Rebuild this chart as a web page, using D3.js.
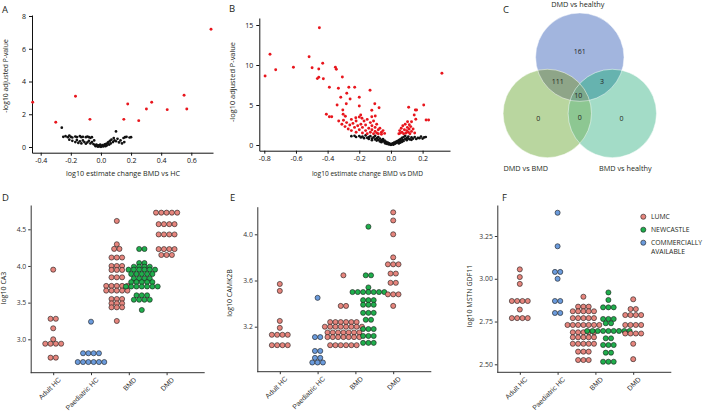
<!DOCTYPE html>
<html><head><meta charset="utf-8">
<script src="https://cdn.jsdelivr.net/npm/d3@7"></script>
<style>
body{margin:0;background:#fff;}
svg{display:block;font-family:"Open Sans",sans-serif;}
</style></head><body>
<svg id="fig" width="709" height="412"></svg>
<script>
// ---------------- DATA ----------------
// Panel A: volcano BMD vs HC  [log10 estimate change, -log10 adj p]
const volcanoA_sig = [[-0.453,2.73],[-0.30,1.51],[-0.169,3.10],[-0.073,1.69],[0.152,1.69],[0.178,2.63],[0.251,1.61],[0.302,2.32],[0.337,2.73],[0.44,2.28],[0.552,3.16],[0.57,2.32],[0.731,7.19]];
const volcanoA_ns = [[-0.26,1.18],[-0.25,0.62],[-0.235,0.66],[-0.22,0.6],[-0.21,0.7],[-0.2,0.62],[-0.19,0.58],[-0.17,0.64],[-0.16,0.6],[-0.14,0.66],[-0.13,0.6],[-0.12,0.62],[-0.1,0.6],[-0.09,0.64],[-0.08,0.6],[-0.07,0.56],[-0.06,0.6],
[-0.21,0.45],[-0.19,0.38],[-0.17,0.3],[-0.16,0.42],[-0.15,0.25],[-0.14,0.35],[-0.13,0.22],[-0.12,0.4],[-0.11,0.3],[-0.1,0.2],[-0.09,0.28],[-0.08,0.38],[-0.07,0.22],[-0.06,0.3],[-0.05,0.18],[-0.045,0.4],
[-0.04,0.12],[-0.035,0.05],[-0.03,0.15],[-0.025,0.08],[-0.02,0.02],[-0.015,0.1],[-0.01,0.04],[-0.005,0.14],[0,0.01],[0.005,0.06],[0.01,0.12],[0.015,0.03],[0.02,0.09],[0.025,0.16],[0.03,0.05],[0.035,0.2],[0.04,0.1],[0.045,0.25],
[0.05,0.3],[0.055,0.15],[0.06,0.38],[0.065,0.22],[0.07,0.45],[0.08,0.3],[0.085,0.55],[0.09,0.4],[0.1,0.95],[0.1,0.35],[0.11,0.5],[0.12,0.28],[0.13,0.4],[0.14,0.22],[0.15,0.55],[0.155,0.3],[0.16,0.6],[0.17,0.62],[0.19,0.58],[0.2,0.6]];

// Panel B: volcano BMD vs DMD
const volcanoB_sig = [[-0.452,14.66],[-0.764,11.34],[-0.795,8.63],[-0.728,9.41],[-0.616,9.71],[-0.517,11.04],[-0.498,9.66],[-0.431,10.21],[-0.456,9.5],[-0.456,8.46],[-0.465,8.3],[-0.427,8.29],[-0.351,9.71],[-0.345,9.46],[-0.307,8.5],[-0.389,7.21],[-0.332,7.09],[-0.266,7.21],[-0.229,7.21],[-0.279,6.46],[-0.317,5.96],[-0.258,5.75],[-0.2,5.96],[-0.132,6.84],[-0.34,5.0],[-0.282,5.16],[-0.2,4.88],[-0.102,5.16],[-0.075,4.66],[-0.121,4.34],[-0.408,3.84],[-0.389,3.54],[-0.374,3.54],[-0.304,4.375],[-0.302,3.84],[-0.288,3.6],[-0.222,3.41],[-0.191,3.75],[-0.183,3.34],[-0.121,3.54],[-0.099,3.625],
[-0.33,3.0],[-0.31,2.6],[-0.3,3.1],[-0.29,2.3],[-0.28,2.8],[-0.27,2.0],[-0.26,2.5],[-0.25,3.2],[-0.25,1.8],[-0.24,2.7],[-0.23,2.2],[-0.22,1.6],[-0.22,3.0],[-0.21,2.4],[-0.2,1.9],[-0.2,3.5],[-0.19,2.6],[-0.18,1.5],[-0.18,2.2],[-0.17,3.0],[-0.16,1.8],[-0.16,2.5],[-0.15,1.4],[-0.15,3.2],[-0.14,2.1],[-0.13,1.6],[-0.13,2.8],[-0.12,1.9],[-0.12,2.4],[-0.11,1.4],[-0.11,3.0],[-0.1,1.7],[-0.1,2.2],[-0.09,1.5],[-0.09,2.6],[-0.08,1.9],[-0.08,1.4],[-0.07,2.1],[-0.06,1.6],[-0.06,1.35],[-0.05,1.8],[-0.04,1.45],
[0.112,4.71],[0.154,4.375],[0.162,4.375],[0.207,5.0],[0.147,3.75],[0.157,3.21],[0.222,3.125],[0.238,3.125],[0.322,8.96],[0.13,2.9],[0.116,2.54],[0.104,2.2],[0.05,1.4],[0.055,1.8],[0.06,1.5],[0.065,2.1],[0.07,1.6],[0.075,2.4],[0.08,1.4],[0.085,1.9],[0.09,2.6],[0.095,1.5],[0.1,1.8],[0.105,2.9],[0.11,1.6],[0.115,2.0],[0.12,1.4],[0.125,2.3],[0.13,1.7],[0.14,2.0],[0.15,1.5]];
const volcanoB_ns = [[-0.25,1.1],[-0.23,1.15],[-0.22,1.0],[-0.2,1.12],[-0.19,0.95],[-0.18,1.05],[-0.17,0.85],[-0.16,1.2],[-0.15,0.9],[-0.14,1.0],[-0.14,0.75],[-0.13,1.1],[-0.12,0.8],[-0.12,0.6],[-0.11,0.95],[-0.1,0.7],[-0.1,1.15],[-0.09,0.55],[-0.09,0.85],[-0.08,0.65],[-0.08,1.0],[-0.07,0.45],[-0.07,0.8],[-0.06,0.6],[-0.06,0.35],[-0.05,0.5],[-0.05,0.75],[-0.04,0.3],[-0.04,0.55],[-0.035,0.2],[-0.03,0.4],[-0.025,0.15],[-0.02,0.3],[-0.015,0.08],[-0.01,0.2],[-0.005,0.05],[0,0.12],[0,0.02],
[0.005,0.08],[0.01,0.2],[0.015,0.04],[0.02,0.3],[0.025,0.15],[0.03,0.4],[0.035,0.25],[0.04,0.5],[0.045,0.35],[0.05,0.6],[0.05,0.2],[0.055,0.45],[0.06,0.75],[0.06,0.3],[0.065,0.55],[0.07,0.9],[0.07,0.4],[0.075,0.65],[0.08,1.0],[0.08,0.5],[0.09,0.75],[0.09,1.15],[0.1,0.6],[0.1,0.9],[0.11,0.8],[0.11,1.05],[0.12,0.7],[0.13,0.95],[0.13,0.65],[0.14,0.8],[0.15,1.0],[0.16,0.75],[0.17,0.9],[0.18,0.85],[0.19,1.05],[0.2,0.8],[0.21,0.95],[0.22,1.0]];

const volcanoA_xTicks = [-0.4,-0.2,0.0,0.2,0.4,0.6];
const volcanoA_yTicks = [0,2,4,6,8];
const volcanoB_xTicks = [-0.8,-0.6,-0.4,-0.2,0.0,0.2];
const volcanoB_yTicks = [0,5,10,15];

// Panel C: Venn
const vennSets = ["DMD vs healthy","DMD vs BMD","BMD vs healthy"];
const vennOnly = [161, 0, 0];            // blue only, green only, teal only
const vennPairs = [[0,1,111],[0,2,3],[1,2,0]];
const vennAll = 10;

// Panels D-F: dot plots, rows of [value, count]
const categories = ["Adult HC","Paediatric HC","BMD","DMD"];
const sources = ["LUMC","NEWCASTLE","COMMERCIALLY AVAILABLE"];

const ca3_adult_lumc = [[3.95,1],[3.28,2],[3.15,1],[3.0,1],[2.94,4],[2.75,2]];
const ca3_paed_comm  = [[3.24,1],[2.81,4],[2.69,6]];
const ca3_bmd_lumc   = [[4.614,1],[4.296,1],[4.233,2],[4.115,3],[4.0,3],[3.946,3],[3.845,3],[3.728,5],[3.664,5],[3.55,3],[3.49,3],[3.436,3],[3.25,1]];
const ca3_bmd_nc     = [[4.232,2],[4.04,2],[3.99,4],[3.95,6],[3.89,5],[3.83,4],[3.78,5],[3.72,7],[3.60,3],[3.54,4],[3.40,1]];
const ca3_dmd_lumc   = [[4.727,5],[4.57,4],[4.43,4],[4.23,4],[4.15,3]];
const ca3_yTicks = [3.0,3.5,4.0,4.5];

const camk_adult_lumc = [[3.57,1],[3.51,1],[3.25,1],[3.19,1],[3.13,4],[3.04,4]];
const camk_paed_comm  = [[3.45,1],[3.11,2],[2.99,2],[2.93,2],[2.89,3]];
const camk_bmd_lumc   = [[3.645,1],[3.38,2],[3.24,6],[3.2,8],[3.15,7],[3.11,7],[3.04,6]];
const camk_bmd_nc     = [[4.066,1],[3.645,2],[3.54,1],[3.50,7],[3.43,3],[3.39,3],[3.32,3],[3.26,2],[3.18,3],[3.12,3],[3.06,3]];
const camk_dmd_lumc   = [[4.19,1],[4.12,1],[4.0,1],[3.80,1],[3.74,3],[3.66,2],[3.58,2],[3.48,3],[3.38,1]];
const camk_yTicks = [3.2,3.6,4.0];

const mstn_adult_lumc = [[3.055,1],[3.01,1],[2.97,1],[2.87,4],[2.82,1],[2.77,4]];
const mstn_paed_comm  = [[3.386,1],[3.19,1],[3.04,2],[3.0,1],[2.87,2],[2.80,2]];
const mstn_bmd_lumc   = [[2.895,1],[2.837,3],[2.81,5],[2.77,5],[2.73,7],[2.687,5],[2.658,5],[2.62,5],[2.574,3],[2.525,3]];
const mstn_bmd_nc     = [[2.92,1],[2.876,1],[2.833,3],[2.765,3],[2.74,2],[2.695,9],[2.652,2],[2.613,3],[2.568,2],[2.515,3]];
const mstn_dmd_lumc   = [[2.88,1],[2.823,2],[2.788,4],[2.73,4],[2.68,4],[2.62,1],[2.53,1]];
const mstn_yTicks = [2.50,2.75,3.00,3.25];

// ---------------- STYLE ----------------
const srcColor = {"LUMC":"#e6857d","NEWCASTLE":"#1fae4c","COMMERCIALLY AVAILABLE":"#6b9bdc"};
const svg = d3.select("#fig");
const TXT = "#231f20";

function styleAxis(sel, color, fs){
  sel.select(".domain").attr("stroke",color).attr("stroke-width",1);
  sel.selectAll(".tick line").attr("stroke",color);
  sel.selectAll(".tick text").attr("fill",color).style("font-size",fs+"px").style("font-family",'"Open Sans",sans-serif');
}
function panelLetter(t,x,y){
  svg.append("text").attr("x",x).attr("y",y).text(t).style("font-size","9.5px").attr("fill",TXT);
}

// ---------------- VOLCANO ----------------
function volcano(o){
  const g = svg.append("g");
  const x = d3.scaleLinear().domain(o.xDom).range(o.xRng);
  const y = d3.scaleLinear().domain(o.yDom).range(o.yRng);
  const xAx = d3.scaleLinear().domain([x.invert(o.ax0), x.invert(o.ax1)]).range([o.ax0, o.ax1]);
  const yAx = d3.scaleLinear().domain([y.invert(o.ay0), y.invert(o.ay1)]).range([o.ay0, o.ay1]);
  g.append("g").attr("transform",`translate(0,${o.ay0})`)
    .call(d3.axisBottom(xAx).tickValues(o.xTicks).tickFormat(d=>d.toFixed(1)).tickSize(3).tickPadding(2.5).tickSizeOuter(0))
    .call(s=>styleAxis(s,"#111",7));
  g.append("g").attr("transform",`translate(${o.ax0},0)`)
    .call(d3.axisLeft(yAx).tickValues(o.yTicks).tickFormat(d=>String(d)).tickSize(3).tickPadding(3).tickSizeOuter(0))
    .call(s=>styleAxis(s,"#111",7));
  g.append("g").selectAll("circle").data(o.ns).join("circle")
    .attr("cx",d=>x(d[0])).attr("cy",d=>y(d[1])).attr("r",1.35).attr("fill","#111");
  g.append("g").selectAll("circle").data(o.sig).join("circle")
    .attr("cx",d=>x(d[0])).attr("cy",d=>y(d[1])).attr("r",1.45).attr("fill","#e8161d");
  g.append("text").attr("x",o.xlab[0]).attr("y",o.xlab[1]).attr("text-anchor","middle")
    .style("font-size",o.xlabFs+"px").attr("fill",TXT).text(o.xlabel);
  g.append("text").attr("transform",`translate(${o.ylab[0]},${o.ylab[1]}) rotate(-90)`).attr("text-anchor","middle")
    .style("font-size",o.ylabFs+"px").attr("fill",TXT).text("-log10 adjusted P-value");
}

volcano({xDom:[-0.4,0.6], xRng:[40.7,191.3], yDom:[0,8], yRng:[147,16],
  ax0:32, ax1:213, ay0:152.7, ay1:15, xTicks:volcanoA_xTicks, yTicks:volcanoA_yTicks,
  ns:volcanoA_ns, sig:volcanoA_sig, xlabel:"log10 estimate change BMD vs HC", xlab:[123,176], xlabFs:7.2,
  ylab:[7.5,76], ylabFs:6.8});
volcano({xDom:[-0.8,0.2], xRng:[264.3,422.6], yDom:[0,15], yRng:[145,25],
  ax0:259.3, ax1:450, ay0:150.7, ay1:18, xTicks:volcanoB_xTicks, yTicks:volcanoB_yTicks,
  ns:volcanoB_ns, sig:volcanoB_sig, xlabel:"log10 estimate change BMD vs DMD", xlab:[367.5,176], xlabFs:6.6,
  ylab:[235,82], ylabFs:7.4});

panelLetter("A",2,13);
panelLetter("B",229,12);
panelLetter("C",503,13);
panelLetter("D",2,201);
panelLetter("E",230,201);
panelLetter("F",502,201);

// ---------------- VENN ----------------
(function(){
  const r = 44.2, side = 65, cxC = 579.8, cyC = 94.7;
  const R = side/Math.sqrt(3);
  const angles = [-90, 150, 30];
  const centers = angles.map(a=>[cxC + R*Math.cos(a*Math.PI/180), cyC + R*Math.sin(a*Math.PI/180)]);
  const fills = ["#a2b5de","#b9d69f","#a3dcc7"];
  const pairFill = {"0-1":"#8ea588","0-2":"#66b3af","1-2":"#8dc792"};
  const tripleFill = "#7ba98c";
  const defs = svg.append("defs");
  centers.forEach((c,i)=>{
    defs.append("clipPath").attr("id","vc"+i).append("circle").attr("cx",c[0]).attr("cy",c[1]).attr("r",r);
  });
  const g = svg.append("g");
  g.selectAll("circle.base").data(centers).join("circle").attr("class","base")
    .attr("cx",d=>d[0]).attr("cy",d=>d[1]).attr("r",r).attr("fill",(d,i)=>fills[i]);
  vennPairs.forEach(([a,b])=>{
    g.append("g").attr("clip-path",`url(#vc${a})`).append("circle")
      .attr("cx",centers[b][0]).attr("cy",centers[b][1]).attr("r",r).attr("fill",pairFill[a+"-"+b]);
  });
  g.append("g").attr("clip-path","url(#vc0)").append("g").attr("clip-path","url(#vc1)").append("circle")
    .attr("cx",centers[2][0]).attr("cy",centers[2][1]).attr("r",r).attr("fill",tripleFill);
  g.selectAll("circle.edge").data(centers).join("circle").attr("class","edge")
    .attr("cx",d=>d[0]).attr("cy",d=>d[1]).attr("r",r).attr("fill","none").attr("stroke","#fff").attr("stroke-opacity",0.6).attr("stroke-width",0.8);
  const num = (x,y,t)=>g.append("text").attr("x",x).attr("y",y).attr("text-anchor","middle").attr("dy","0.35em")
    .style("font-size","7px").attr("fill",TXT).text(t);
  vennOnly.forEach((v,i)=>{
    const k = i===0 ? 1.16 : 1.28;
    num(cxC + (centers[i][0]-cxC)*k, cyC + (centers[i][1]-cyC)*k, v);
  });
  vennPairs.forEach(([a,b,v])=>{
    const mx = (centers[a][0]+centers[b][0])/2 - cxC, my = (centers[a][1]+centers[b][1])/2 - cyC;
    const k = (a===1&&b===2) ? 1.2 : 1.36;
    num(cxC + mx*k, cyC + my*k, v);
  });
  num(cxC-1.5, cyC+1, vennAll);
  const lab = (x,y,t)=>g.append("text").attr("x",x).attr("y",y).attr("text-anchor","middle")
    .style("font-size","7.3px").attr("fill",TXT).text(t);
  lab(centers[0][0]-2, centers[0][1]-r-5.5, vennSets[0]);
  lab(centers[1][0]-21.5, centers[1][1]+r+13.5, vennSets[1]);
  lab(centers[2][0]+13, centers[2][1]+r+13.5, vennSets[2]);
})();

// ---------------- DOT PLOTS ----------------
function dotPanel(o){
  const g = svg.append("g");
  const y = d3.scaleLinear().domain(o.yDom).range(o.yRng);
  const x = d3.scalePoint().domain(categories).range([o.x0+22.5, o.x0+22.5+3*37.8]);
  const yAx = d3.scaleLinear().domain([y.invert(o.yBot), y.invert(o.yTop)]).range([o.yBot, o.yTop]);
  g.append("g").attr("transform",`translate(${o.x0},0)`)
    .call(d3.axisLeft(yAx).tickValues(o.yTicks).tickFormat(o.fmt).tickSize(2.5).tickPadding(2).tickSizeOuter(0))
    .call(s=>styleAxis(s,"#333",6.8));
  const xa = g.append("g").attr("transform",`translate(0,${o.yBot})`)
    .call(d3.axisBottom(x).tickSize(2.5).tickSizeOuter(0));
  xa.select(".domain").remove();
  xa.selectAll(".tick line").attr("stroke","#333");
  xa.selectAll(".tick text").attr("fill","#333").style("font-size","7px")
    .attr("text-anchor","end").attr("transform","translate(3,3) rotate(-45)").attr("dy","0.5em").attr("y",3);
  g.append("line").attr("x1",o.x0).attr("x2",o.x0+174).attr("y1",o.yBot).attr("y2",o.yBot).attr("stroke","#333").attr("stroke-width",1);
  const dodge = {"LUMC":-12,"NEWCASTLE":13,"COMMERCIALLY AVAILABLE":-12};
  const sp = 5.3;
  const dots = [];
  o.groups.forEach(gr=>{
    const cx = x(gr.cat) + (gr.cat==="BMD" ? dodge[gr.src] : 0);
    gr.rows.forEach(([v,n])=>{
      for(let j=0;j<n;j++) dots.push({x:cx+(j-(n-1)/2)*sp, y:y(v), src:gr.src});
    });
  });
  g.append("g").selectAll("circle").data(dots).join("circle")
    .attr("cx",d=>d.x).attr("cy",d=>d.y).attr("r",2.55)
    .attr("fill",d=>srcColor[d.src]).attr("stroke","#1a1a1a").attr("stroke-width",0.6);
  g.append("text").attr("transform",`translate(${o.x0-25},${o.ylabY}) rotate(-90)`).attr("text-anchor","middle")
    .style("font-size","7px").attr("fill",TXT).text(o.ylabel);
}

dotPanel({x0:30.7, yTop:205, yBot:372.7, yDom:[3.0,4.5], yRng:[339.3,229.3], yTicks:ca3_yTicks, fmt:d=>d.toFixed(1),
  ylabel:"log10 CA3", ylabY:288,
  groups:[{cat:"Adult HC",src:"LUMC",rows:ca3_adult_lumc},{cat:"Paediatric HC",src:"COMMERCIALLY AVAILABLE",rows:ca3_paed_comm},
          {cat:"BMD",src:"LUMC",rows:ca3_bmd_lumc},{cat:"BMD",src:"NEWCASTLE",rows:ca3_bmd_nc},{cat:"DMD",src:"LUMC",rows:ca3_dmd_lumc}]});
dotPanel({x0:257.3, yTop:206.7, yBot:371.7, yDom:[3.2,4.0], yRng:[326.7,234.3], yTicks:camk_yTicks, fmt:d=>d.toFixed(1),
  ylabel:"log10 CAMK2B", ylabY:293,
  groups:[{cat:"Adult HC",src:"LUMC",rows:camk_adult_lumc},{cat:"Paediatric HC",src:"COMMERCIALLY AVAILABLE",rows:camk_paed_comm},
          {cat:"BMD",src:"LUMC",rows:camk_bmd_lumc},{cat:"BMD",src:"NEWCASTLE",rows:camk_bmd_nc},{cat:"DMD",src:"LUMC",rows:camk_dmd_lumc}]});
dotPanel({x0:497.3, yTop:205, yBot:372.3, yDom:[2.5,3.25], yRng:[364.3,236], yTicks:mstn_yTicks, fmt:d=>d.toFixed(2),
  ylabel:"log10 MSTN GDF11", ylabY:296,
  groups:[{cat:"Adult HC",src:"LUMC",rows:mstn_adult_lumc},{cat:"Paediatric HC",src:"COMMERCIALLY AVAILABLE",rows:mstn_paed_comm},
          {cat:"BMD",src:"LUMC",rows:mstn_bmd_lumc},{cat:"BMD",src:"NEWCASTLE",rows:mstn_bmd_nc},{cat:"DMD",src:"LUMC",rows:mstn_dmd_lumc}]});

// legend
(function(){
  const lg = svg.append("g");
  const ys = d3.scalePoint().domain(sources).range([216.7,242.7]);
  sources.forEach(s=>{
    lg.append("circle").attr("cx",643.3).attr("cy",ys(s)).attr("r",2.55).attr("fill",srcColor[s]).attr("stroke","#1a1a1a").attr("stroke-width",0.6);
    const words = s==="COMMERCIALLY AVAILABLE" ? ["COMMERCIALLY","AVAILABLE"] : [s];
    words.forEach((w,i)=>lg.append("text").attr("x",651).attr("y",ys(s)+i*9).attr("dy","0.35em")
      .style("font-size","6.8px").attr("fill",TXT).text(w));
  });
})();
</script></body></html>
